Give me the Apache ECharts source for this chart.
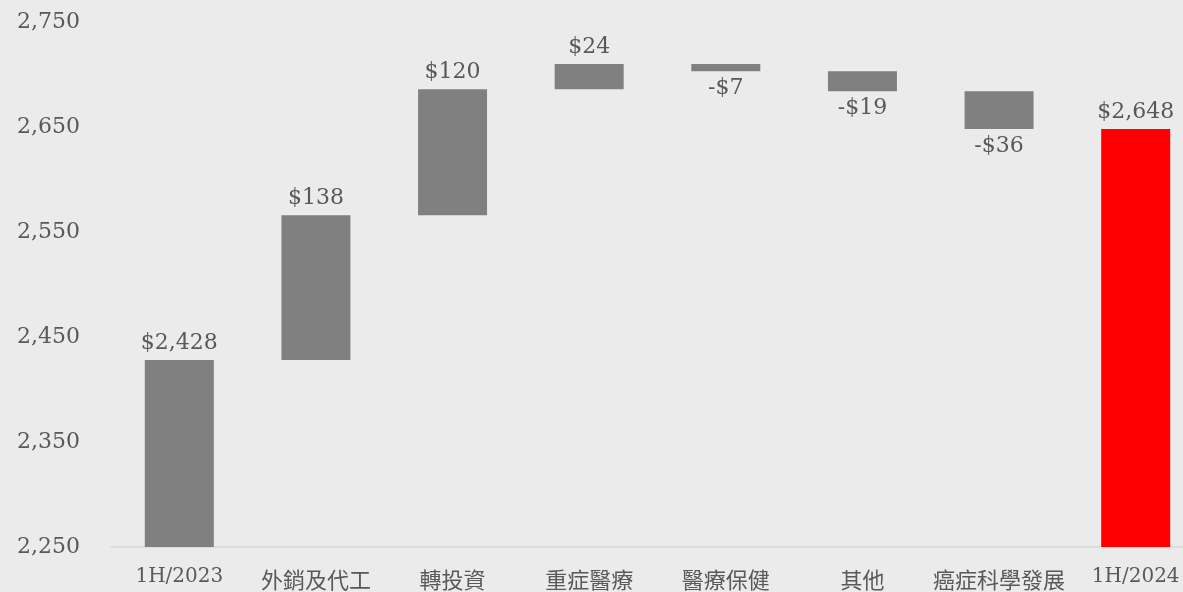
<!DOCTYPE html>
<html>
<head>
<meta charset="utf-8">
<script src="https://cdn.jsdelivr.net/npm/echarts@6/dist/echarts.min.js"></script>
<style>
  html, body { margin: 0; padding: 0; background: #ebebeb; }
  #chart { width: 1183px; height: 592px; }
</style>
</head>
<body>
<div id="chart"></div>
<script>
// 各項目
const categories = ['1H/2023', '外銷及代工', '轉投資', '重症醫療', '醫療保健', '其他', '癌症科學發展', '1H/2024']
const startValue = 2428
const changes = [138, 120, 24, -7, -19, -36]
const endValue = 2648
const yTicks = [2250, 2750, 100]  // min, max, interval

// 瀑布圖：透明底座 + 可見長條
const baseData = [0]
const barData = [{ value: startValue, raw: startValue }]
let running = startValue
changes.forEach(c => {
  const next = running + c
  baseData.push(Math.min(running, next))
  barData.push({ value: Math.abs(c), raw: c, label: { position: c < 0 ? 'bottom' : 'top' } })
  running = next
})
baseData.push(0)
barData.push({ value: endValue, raw: endValue, itemStyle: { color: '#ff0000' } })

const money = v => (v < 0 ? '-$' : '$') + Math.abs(v).toLocaleString('en-US')
const serif = 'DejaVu Serif, Noto Sans CJK TC'

const chart = echarts.init(document.getElementById('chart'))
chart.setOption({
  backgroundColor: '#ebebeb',
  animation: false,
  // 右邊超出畫面，最後一根被裁切
  grid: { left: 111, width: 1093, top: 22, bottom: 45, outerBoundsMode: 'none', containLabel: false },
  xAxis: {
    type: 'category',
    data: categories,
    axisTick: { show: false },
    axisLine: { lineStyle: { color: '#d9d9d9', width: 1.5 } },
    axisLabel: {
      margin: 20,
      interval: 0,
      formatter: v => /^[0-9A-Za-z\/]+$/.test(v) ? '{lat|' + v + '}' : '{cjk|' + v + '}',
      rich: {
        lat: { fontFamily: 'DejaVu Serif', fontSize: 20, color: '#595959' },
        cjk: { fontFamily: 'Noto Sans CJK TC', fontSize: 22, color: '#595959', padding: [2, 0, 0, 0] }
      }
    }
  },
  yAxis: {
    type: 'value',
    min: yTicks[0],
    max: yTicks[1],
    interval: yTicks[2],
    splitLine: { show: false },
    axisLine: { show: false },
    axisTick: { show: false },
    axisLabel: {
      margin: 31,
      fontFamily: serif,
      fontSize: 22,
      color: '#595959',
      formatter: v => v.toLocaleString('en-US')
    }
  },
  series: [
    {
      type: 'bar',
      stack: 'wf',
      barWidth: '50.5%',
      itemStyle: { color: 'transparent' },
      emphasis: { disabled: true },
      data: baseData
    },
    {
      type: 'bar',
      stack: 'wf',
      barWidth: '50.5%',
      itemStyle: { color: '#808080' },
      label: {
        show: true,
        position: 'top',
        distance: 6,
        fontFamily: serif,
        fontSize: 22,
        color: '#595959',
        formatter: p => money(p.data.raw)
      },
      data: barData
    }
  ]
})
</script>
</body>
</html>
